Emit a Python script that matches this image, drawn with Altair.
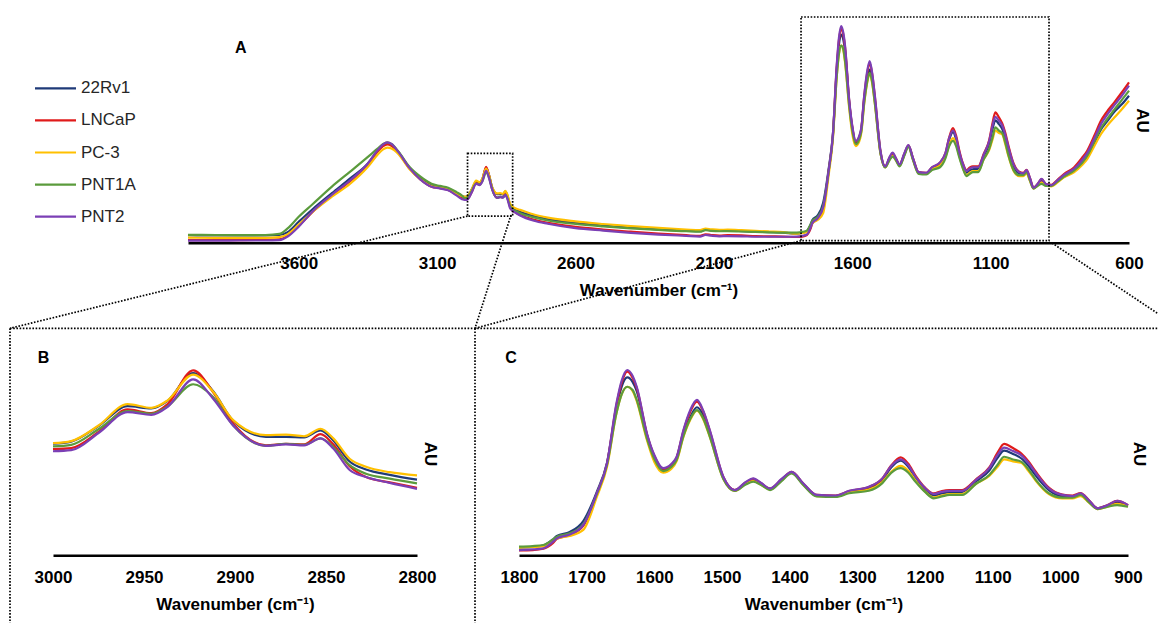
import altair as alt
import pandas as pd

FONT = "Liberation Sans"
SERIES = ["22Rv1", "LNCaP", "PC-3", "PNT1A", "PNT2"]
COLORS = ["#1f3a78", "#e01b1b", "#ffc000", "#5b9b3c", "#7b3fb5"]

# wavenumbers (cm-1), descending
WAVENUMBER = (
    [4000, 3900, 3800, 3720, 3670, 3640, 3600, 3550, 3480, 3414, 3350, 3315, 3295, 3280, 3265, 3240,
     3200, 3160, 3120, 3090, 3060, 3030, 3010]
    + [3000, 2990, 2975, 2959, 2946, 2937, 2923, 2912, 2901, 2883, 2872, 2862, 2853, 2846, 2837, 2828,
       2815, 2800]
    + [2750, 2700, 2600, 2500, 2400, 2300, 2200, 2150, 2130, 2110, 2080, 2050, 2000, 1950, 1900, 1850]
    + [1800, 1780, 1764, 1750, 1744, 1725, 1705, 1685, 1670, 1656, 1648, 1640, 1632, 1626, 1611, 1600,
       1587, 1575, 1567, 1557, 1547, 1537, 1528, 1518, 1498, 1481, 1465, 1454, 1442, 1429, 1412, 1397,
       1380, 1360, 1332, 1312, 1283, 1263, 1250, 1236, 1225, 1214, 1200, 1187, 1175, 1164, 1145, 1125,
       1105, 1093, 1083, 1070, 1058, 1047, 1036, 1017, 997, 982, 970, 958, 945, 930, 916, 900]
    + [880, 860, 835, 799, 770, 751, 725, 701, 680, 653, 625, 600]
)

AU_22RV1 = (
    [.034, .033, .033, .033, .035, .048, .095, .152, .225, .292, .360, .418, .444, .452, .446, .412,
     .340, .292, .260, .252, .245, .225, .212]
    + [.208, .212, .241, .278, .274, .288, .340, .306, .251, .221, .221, .220, .233, .214, .175, .160,
       .150, .141]
    + [.121, .107, .090, .078, .068, .061, .055, .052, .059, .056, .054, .055, .053, .050, .048, .046]
    + [.041, .044, .052, .084, .103, .124, .182, .337, .491, .783, .900, .946, .921, .873, .640, .523,
       .456, .475, .517, .650, .735, .787, .746, .645, .411, .344, .384, .400, .379, .352, .400, .440,
       .379, .318, .315, .337, .355, .400, .467, .503, .472, .411, .350, .318, .329, .334, .337, .392,
       .451, .517, .556, .539, .516, .475, .422, .347, .315, .313, .326, .289, .249, .265, .283, .265]
    + [.260, .278, .300, .325, .360, .390, .452, .515, .550, .595, .630, .668]
)

AU_LNCAP = (
    [.012, .012, .012, .013, .015, .032, .076, .140, .215, .280, .355, .414, .439, .447, .441, .408,
     .338, .288, .255, .248, .240, .218, .202]
    + [.198, .200, .230, .272, .265, .282, .345, .304, .246, .205, .208, .207, .226, .207, .166, .146,
       .136, .126]
    + [.104, .090, .072, .060, .050, .041, .034, .031, .038, .035, .032, .034, .033, .030, .029, .028]
    + [.026, .028, .035, .065, .087, .108, .156, .326, .485, .799, .921, .976, .943, .889, .645, .528,
       .459, .480, .520, .661, .762, .817, .767, .661, .416, .347, .387, .406, .382, .355, .403, .443,
       .382, .321, .318, .342, .363, .408, .477, .521, .488, .424, .360, .329, .342, .347, .347, .403,
       .467, .544, .592, .570, .542, .499, .443, .360, .323, .318, .331, .294, .250, .267, .289, .266]
    + [.263, .284, .312, .342, .385, .418, .487, .555, .595, .638, .685, .729]
)

AU_PC3 = (
    [.023, .022, .022, .022, .025, .038, .082, .140, .209, .268, .345, .400, .424, .432, .428, .403,
     .335, .288, .257, .250, .243, .222, .212]
    + [.209, .213, .242, .282, .275, .289, .337, .305, .252, .224, .225, .222, .236, .218, .180, .165,
       .155, .149]
    + [.128, .114, .097, .085, .075, .067, .060, .057, .064, .061, .058, .059, .057, .054, .051, .048]
    + [.041, .044, .049, .076, .089, .103, .135, .310, .469, .755, .858, .896, .873, .820, .613, .496,
       .439, .459, .501, .629, .719, .769, .725, .629, .406, .342, .379, .395, .374, .350, .398, .438,
       .376, .315, .313, .334, .350, .390, .443, .475, .451, .398, .339, .307, .318, .326, .326, .379,
       .422, .469, .510, .499, .492, .448, .395, .326, .303, .303, .315, .281, .246, .259, .273, .259]
    + [.256, .272, .297, .320, .352, .380, .440, .494, .530, .569, .608, .645]
)

AU_PNT1A = (
    [.036, .035, .034, .035, .040, .065, .118, .175, .255, .323, .390, .428, .449, .456, .449, .415,
     .345, .300, .268, .258, .250, .230, .214]
    + [.203, .206, .235, .269, .264, .278, .319, .295, .242, .204, .208, .206, .218, .202, .168, .152,
       .143, .134]
    + [.115, .101, .085, .074, .065, .058, .052, .050, .057, .054, .052, .053, .051, .049, .047, .046]
    + [.046, .049, .055, .084, .099, .117, .166, .326, .480, .755, .858, .896, .879, .826, .622, .512,
       .448, .469, .507, .634, .725, .772, .730, .631, .406, .342, .376, .391, .374, .347, .395, .435,
       .374, .313, .310, .330, .343, .384, .438, .463, .440, .391, .337, .303, .313, .321, .321, .379,
       .427, .480, .524, .509, .498, .456, .400, .330, .307, .307, .321, .283, .246, .259, .267, .258]
    + [.258, .276, .300, .328, .362, .395, .460, .522, .560, .605, .650, .691]
)

AU_PNT2 = (
    [.009, .009, .010, .010, .012, .028, .073, .142, .218, .284, .360, .420, .447, .456, .449, .413,
     .340, .287, .254, .247, .238, .215, .198]
    + [.194, .196, .228, .267, .262, .277, .328, .292, .242, .204, .207, .205, .218, .199, .159, .146,
       .135, .124]
    + [.100, .086, .066, .055, .045, .037, .031, .028, .035, .032, .029, .030, .029, .027, .027, .027]
    + [.028, .031, .037, .071, .090, .111, .161, .330, .489, .808, .932, .985, .953, .896, .649, .533,
       .463, .485, .524, .666, .772, .826, .772, .666, .418, .347, .390, .409, .384, .356, .406, .444,
       .383, .321, .318, .343, .365, .409, .475, .510, .480, .418, .358, .326, .337, .343, .343, .400,
       .463, .533, .572, .554, .533, .491, .436, .356, .321, .315, .330, .294, .250, .267, .290, .267]
    + [.262, .282, .308, .336, .375, .408, .475, .540, .580, .625, .670, .714]
)

TICKS_A = [3600, 3100, 2600, 2100, 1600, 1100, 600]
TICKS_B = [3000, 2950, 2900, 2850, 2800]
TICKS_C = [1800, 1700, 1600, 1500, 1400, 1300, 1200, 1100, 1000, 900]

rows = []
for name, vals in zip(SERIES, [AU_22RV1, AU_LNCAP, AU_PC3, AU_PNT1A, AU_PNT2]):
    assert len(vals) == len(WAVENUMBER), (name, len(vals), len(WAVENUMBER))
    for w, v in zip(WAVENUMBER, vals):
        rows.append({"wn": w, "au": v, "series": name})
df = pd.DataFrame(rows)

W, H = 1150, 615
ONE = alt.Data(values=[{}])
DASH = [1.6, 1.6]
DOT = dict(color="black", strokeDash=DASH, strokeWidth=1.7)

color = alt.Color("series:N", scale=alt.Scale(domain=SERIES, range=COLORS), legend=None)

# panel scales (pixel ranges inside the single canvas)
A_X = alt.Scale(domain=[4000, 600], range=[180, 1121], nice=False, zero=False)
A_Y = alt.Scale(domain=[0, 1], range=[234.7, 14.7], nice=False, zero=False)
B_X = alt.Scale(domain=[3000, 2800], range=[45, 409], nice=False, zero=False)
B_Y = alt.Scale(domain=[0, 0.4], range=[547.3, 332.8], nice=False, zero=False)
C_X = alt.Scale(domain=[1800, 900], range=[511, 1120], nice=False, zero=False)
C_Y = alt.Scale(domain=[0, 1], range=[547.3, 359.2], nice=False, zero=False)


def x_axis(values, axis_y, pad):
    return alt.Axis(
        values=values, format="d", orient="bottom", offset=axis_y - H,
        title="Wavenumber (cm⁻¹)", ticks=False, tickSize=0, grid=False,
        domainColor="black", domainWidth=2.5,
        labelFont=FONT, labelFontSize=17, labelFontWeight="bold", labelColor="black",
        labelPadding=pad, labelFlush=False, labelOverlap=False,
        titleFont=FONT, titleFontSize=17, titleFontWeight="bold", titleColor="black",
        titlePadding=11,
    )


def spectra(xs, ys, ticks, axis_y, pad, lo=None, hi=None):
    base = alt.Chart(df)
    if lo is not None:
        base = base.transform_filter((alt.datum.wn >= lo) & (alt.datum.wn <= hi))
    return base.mark_line(strokeWidth=2.2, interpolate="monotone").encode(
        x=alt.X("wn:Q", scale=xs, axis=x_axis(ticks, axis_y, pad)),
        y=alt.Y("au:Q", scale=ys, axis=None),
        color=color,
        order=alt.Order("wn:Q", sort="descending"),
    )


panel_a = spectra(A_X, A_Y, TICKS_A, 234.7, 13)
panel_b = spectra(B_X, B_Y, TICKS_B, 547.3, 14, 2800, 3000)
panel_c = spectra(C_X, C_Y, TICKS_C, 547.3, 14, 900, 1800)

# zoom boxes drawn in panel A's data space
ZOOM_BOXES = [
    {"w1": 2990, "w2": 2827, "a1": 0.121, "a2": 0.406},
    {"w1": 1785, "w2": 889, "a1": 0.009, "a2": 1.026},
]
boxes = alt.Chart(alt.Data(values=ZOOM_BOXES)).mark_rect(
    fillOpacity=0, stroke="black", strokeDash=DASH, strokeWidth=1.7
).encode(
    x=alt.X("w1:Q", scale=A_X, axis=None), x2="w2:Q",
    y=alt.Y("a1:Q", scale=A_Y, axis=None), y2="a2:Q",
)


def seg(x1, y1, x2, y2):
    return alt.Chart(ONE).mark_rule(**DOT).encode(
        x=alt.value(x1), y=alt.value(y1), x2=alt.value(x2), y2=alt.value(y2))


connectors = [
    seg(459.5, 208.1, 2, 320.3),
    seg(503, 207, 467, 320.3),
    seg(793, 232.7, 467, 320.3),
    seg(1044, 235, 1172, 320.3),
    seg(2, 320.3, 1170, 320.3),
    seg(2, 320.3, 2, 700),
    seg(467, 320.3, 467, 700),
]


def label(txt, x, y, size, angle=0):
    return alt.Chart(ONE).mark_text(
        text=txt, font=FONT, fontSize=size, fontWeight="bold", angle=angle,
        align="center", baseline="middle", color="black",
    ).encode(x=alt.value(x), y=alt.value(y))


labels = [
    label("A", 232.8, 39.5, 16),
    label("B", 35.5, 349.5, 16),
    label("C", 503, 350, 16),
    label("AU", 1133.7, 112.5, 17, 90),
    label("AU", 422, 446, 17, 90),
    label("AU", 1131.3, 446, 17, 90),
]

# legend built from the series list
leg_df = pd.DataFrame({"series": SERIES})
leg_y = alt.Y("series:N", scale=alt.Scale(type="point", domain=SERIES, range=[80.3, 208.7], padding=0),
              axis=None)
legend_lines = alt.Chart(leg_df).mark_rule(strokeWidth=2.2).encode(
    x=alt.value(27), x2=alt.value(68), y=leg_y, color=color)
legend_text = alt.Chart(leg_df).mark_text(
    align="left", baseline="middle", font=FONT, fontSize=17, color="#262626"
).encode(x=alt.value(73), y=leg_y, text="series:N")

chart = alt.layer(
    panel_a, panel_b, panel_c, boxes, *connectors, *labels, legend_lines, legend_text
).resolve_scale(x="independent", y="independent").properties(
    width=W, height=H, autosize=alt.AutoSizeParams(type="none"), padding=0
).configure_view(stroke=None)

chart.save("out.html", embed_options={"renderer": "svg", "actions": False})
